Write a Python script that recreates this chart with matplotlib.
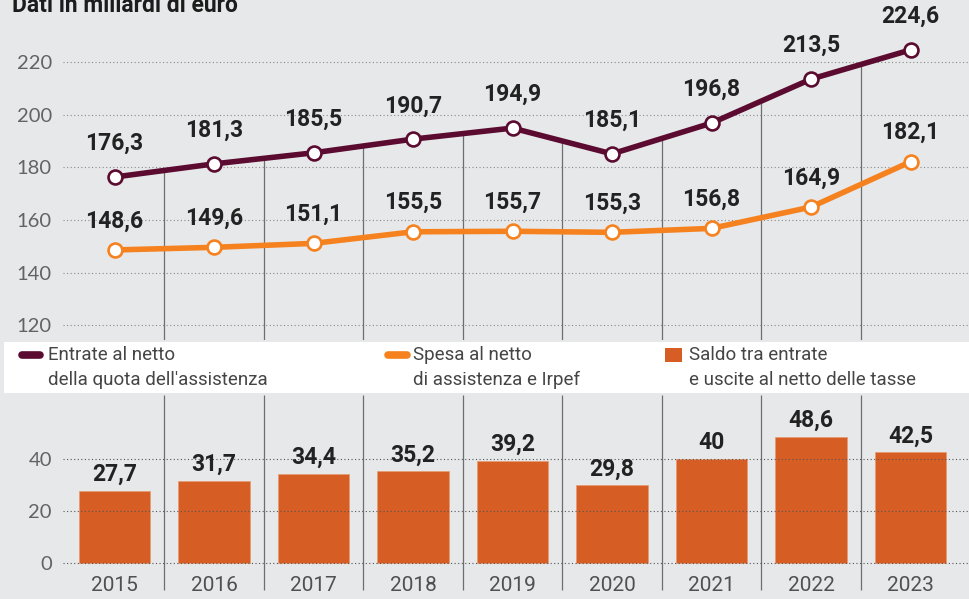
import numpy as np
import matplotlib
matplotlib.use('Agg')
import matplotlib.pyplot as plt
from matplotlib.patches import Rectangle

# data (miliardi di euro)
years = ["2015", "2016", "2017", "2018", "2019", "2020", "2021", "2022", "2023"]
entrate = [176.3, 181.3, 185.5, 190.7, 194.9, 185.1, 196.8, 213.5, 224.6]
spesa = [148.6, 149.6, 151.1, 155.5, 155.7, 155.3, 156.8, 164.9, 182.1]
saldo = [27.7, 31.7, 34.4, 35.2, 39.2, 29.8, 40, 48.6, 42.5]
top_ticks = [120, 140, 160, 180, 200, 220]
bot_ticks = [0, 20, 40]
legend_labels = [("Entrate al netto", "della quota dell'assistenza"),
                 ("Spesa al netto", "di assistenza e Irpef"),
                 ("Saldo tra entrate", "e uscite al netto delle tasse")]

BG = "#e7e8ea"
PURPLE = "#5b0b30"
ORANGE = "#f5821f"
BAR = "#d65e25"
COND = ["Roboto", "DejaVu Sans"]
THIN = ["Lato", "DejaVu Sans"]

W, H = 970, 599


def fmt(v):
    s = ("%.1f" % v).replace(".", ",")
    if s.endswith(",0"):
        s = s[:-2]
    return s


def px_axes(fig, x0, y0, x1, y1):
    # axes placed with pixel coordinates (top-left origin)
    return fig.add_axes([x0 / W, 1 - y1 / H, (x1 - x0) / W, (y1 - y0) / H])


fig = plt.figure(figsize=(W / 100, H / 100), dpi=100)
fig.patch.set_facecolor(BG)

x = np.arange(len(years))
xlim = (-0.518, 8.598)

# ---- top: lines
ax = px_axes(fig, 63, 0, W, 340)
ax.set_facecolor("none")
ax.set_xlim(*xlim)
ax.set_ylim(114.4, 243.55)
for s in ax.spines.values():
    s.set_visible(False)
ax.set_xticks([])
ax.set_yticks(top_ticks)
ax.set_yticklabels([str(t) for t in top_ticks], family=THIN, fontsize=14.5,
                   color="#636363")
ax.tick_params(axis="y", length=0, pad=8)
for t in top_ticks:
    ax.axhline(t, color="#8a8a8a", lw=0.8, ls=(0, (1, 2.2)), zorder=1)

# separators stop at the upper line
for i in range(len(years) - 1):
    mid = (entrate[i] + entrate[i + 1]) / 2
    ax.vlines(i + 0.5, 114.4, mid, color="#6e6e6e", lw=0.9, zorder=2)

ax.plot(x, entrate, color=PURPLE, lw=4, marker="o", ms=10, mfc="white",
        mec=PURPLE, mew=1.9, zorder=4, solid_capstyle="round")
ax.plot(x, spesa, color=ORANGE, lw=4, marker="o", ms=10, mfc="white",
        mec=ORANGE, mew=1.9, zorder=4, solid_capstyle="round")
for i in range(len(years)):
    ax.annotate(fmt(entrate[i]), (x[i], entrate[i]), xytext=(0, 24),
                textcoords="offset points", ha="center", va="center",
                family=COND, fontweight="bold", fontsize=16.5, color="#222222")
    ax.annotate(fmt(spesa[i]), (x[i], spesa[i]), xytext=(0, 21),
                textcoords="offset points", ha="center", va="center",
                family=COND, fontweight="bold", fontsize=16.5, color="#222222")

# ---- bottom: bars
bx = px_axes(fig, 63, 395, W, H)
bx.set_facecolor("none")
bx.set_xlim(*xlim)
bx.set_ylim(-13.85, 64.6)
for s in bx.spines.values():
    s.set_visible(False)
bx.set_xticks([])
bx.set_yticks(bot_ticks)
bx.set_yticklabels([str(t) for t in bot_ticks], family=THIN, fontsize=14.5,
                   color="#636363")
bx.tick_params(axis="y", length=0, pad=8)
bx.bar(x, saldo, width=0.715, color=BAR, edgecolor="#e89a70", lw=0.5, zorder=2)
for t in bot_ticks:
    bx.axhline(t, color="#555555", lw=0.8, ls=(0, (1, 2.2)), zorder=3)
for i in range(len(years) - 1):
    bx.vlines(i + 0.5, -10.5, 64.6, color="#6e6e6e", lw=0.9, zorder=1)
for i in range(len(years)):
    bx.annotate(fmt(saldo[i]), (x[i], saldo[i]), xytext=(0, 12),
                textcoords="offset points", ha="center", va="center",
                family=COND, fontweight="bold", fontsize=16.5, color="#222222")
    bx.text(x[i], -8.5, years[i], ha="center", va="center", family=COND,
            fontsize=15, color="#505050")

# ---- overlay: title and legend band (pixel coordinates)
ov = fig.add_axes([0, 0, 1, 1])
ov.set_xlim(0, W)
ov.set_ylim(H, 0)
ov.axis("off")
ov.patch.set_visible(False)
ov.text(12, 12, "Dati in miliardi di euro", ha="left", va="baseline",
        family=COND, fontweight="bold", fontsize=16.5, color="#1c1c1c")
ov.add_patch(Rectangle((4, 342), W - 4, 51, facecolor="white", edgecolor="none"))
ov.plot([22, 40], [355, 355], color=PURPLE, lw=5.5, solid_capstyle="round")
ov.plot([388, 407], [355, 355], color=ORANGE, lw=5.5, solid_capstyle="round")
ov.add_patch(Rectangle((665, 348), 17, 14, facecolor=BAR, edgecolor="none"))
for lx, (l1, l2) in zip([48, 413, 689], legend_labels):
    ov.text(lx, 355, l1, ha="left", va="center", family=COND, fontsize=13.5,
            color="#454545")
    ov.text(lx, 380, l2, ha="left", va="center", family=COND, fontsize=13.5,
            color="#454545")

fig.savefig("out.png", dpi=100, facecolor=BG)
